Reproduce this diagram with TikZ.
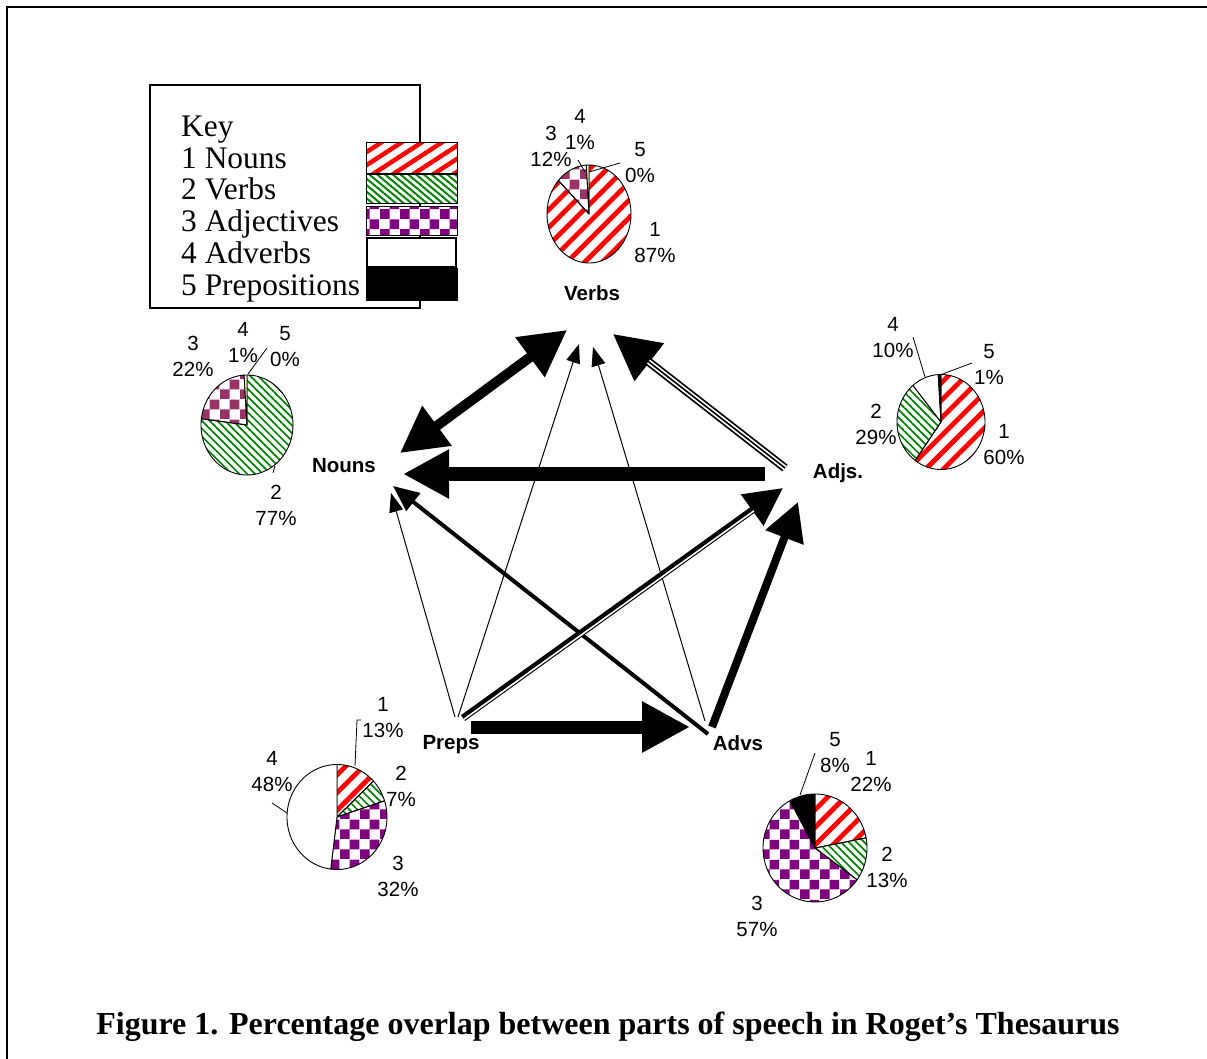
\documentclass[tikz,border=0pt]{standalone}
\usepackage{fontspec}
\setmainfont{Liberation Serif}
\newfontfamily\arialfont{Liberation Sans}
\usetikzlibrary{arrows.meta,patterns,patterns.meta}
\definecolor{nred}{RGB}{255,0,0}
\definecolor{vgreen}{RGB}{0,128,0}
\definecolor{apurple}{RGB}{128,0,128}
\definecolor{amaroon}{RGB}{153,51,102}
\definecolor{pivory}{RGB}{255,255,204}
\pgfdeclarepatternformonly{checkA}{\pgfpointorigin}{\pgfpoint{20pt}{20pt}}{\pgfpoint{20pt}{20pt}}{%
  \pgfpathrectangle{\pgfpointorigin}{\pgfpoint{10pt}{10pt}}%
  \pgfpathrectangle{\pgfpoint{10pt}{10pt}}{\pgfpoint{10pt}{10pt}}%
  \pgfusepath{fill}}
% slice: cx, cy, rx, ry, low angle, high angle, style
\newcommand{\pslice}[7]{%
  \path[#7] (#1,#2) -- plot[domain=#5:#6,samples=80] ({#1+#3*cos(\x)},{#2-#4*sin(\x)}) -- cycle;}
\begin{document}
\begin{tikzpicture}[x=1pt,y=-1pt,
  nounsfill/.style={pattern={Lines[angle=45,distance=12.5pt,line width=4.8pt]},pattern color=nred},
  nounskey/.style={pattern={Lines[angle=33,distance=11pt,line width=4.5pt]},pattern color=nred},
  verbsfill/.style={pattern={Lines[angle=-45,distance=5.5pt,line width=1.7pt]},pattern color=vgreen},
  verbskey/.style={pattern={Lines[angle=-40,distance=5pt,line width=2pt]},pattern color=vgreen},
  adjfill/.style={pattern=checkA,pattern color=apurple},
  adjfillB/.style={pattern=checkA,pattern color=amaroon},
  piece/.style={draw=black,line width=0.9pt,line join=round},
  swatch/.style={draw=black,line width=1pt,preaction={fill=white}},
  lab/.style={font=\arialfont\fontsize{20.5}{26}\selectfont,align=center,inner sep=0pt},
  posname/.style={font=\arialfont\bfseries\fontsize{20.5}{24}\selectfont,inner sep=0pt},
  keytext/.style={font=\fontsize{31.4}{32}\selectfont,anchor=base west,inner sep=0pt},
  leader/.style={draw=black,line width=0.8pt},
  thinarrow/.style={line width=1pt,-{Triangle[length=19pt,width=14pt]}}
]
\useasboundingbox (0,0) rectangle (1207,1059);
\draw[line width=2pt] (1207,7.5) -- (7,7.5) -- (7,1059);

% ---------- Key ----------
\draw[line width=1.2pt] (150,85) rectangle (420,308);
\node[keytext] (keyt) at (181,137) {Key};
\node[keytext] (k1) at (181,169) {1 Nouns};
\node[keytext] (k2) at (181,200) {2 Verbs};
\node[keytext] (k3) at (181,232) {3 Adjectives};
\node[keytext] (k4) at (181,264) {4 Adverbs};
\node[keytext] (k5) at (181,295) {5 Prepositions};
\draw[swatch,nounskey] (366,143) rectangle (457,174);
\draw[swatch,verbskey] (366,175) rectangle (457,204);
\draw[swatch,adjfill] (366,207) rectangle (457,236);
\draw[draw=black,line width=2pt,fill=white] (367,238) rectangle (456,267);
\draw[draw=black,fill=black] (366,268) rectangle (457,300);

% ---------- Verbs pie ----------
\pslice{589}{214}{42}{49}{-223.2}{90}{nounsfill,piece}
\pslice{589}{214}{42}{49}{93.6}{136.8}{adjfillB,piece}
\pslice{589}{214}{42}{49}{90}{93.6}{fill=pivory,piece}
\node[lab] (v4) at (580,130) {4\\1\%};
\node[lab] (v3) at (551,146) {3\\12\%};
\node[lab] (v5) at (640,163) {5\\0\%};
\node[lab] (v1) at (655,243) {1\\87\%};
\coordinate (lv4a) at (578,160); \coordinate (lv4b) at (585,172);
\coordinate (lv5a) at (620,163); \coordinate (lv5b) at (589,172);
\draw[leader] (lv4a) -- (lv4b);
\draw[leader] (lv5a) -- (lv5b);
\node[posname] (verbs) at (592,293) {Verbs};

% ---------- Nouns pie ----------
\pslice{247}{425}{46}{50}{-187.2}{90}{verbsfill,piece}
\pslice{247}{425}{46}{50}{93.6}{172.8}{adjfillB,piece}
\pslice{247}{425}{46}{50}{90}{93.6}{fill=pivory,piece}
\node[lab] (n3) at (193,356) {3\\22\%};
\node[lab] (n4) at (243,343) {4\\1\%};
\node[lab] (n5) at (285,347) {5\\0\%};
\node[lab] (n2) at (276,505) {2\\77\%};
\coordinate (ln5a) at (267,348); \coordinate (ln5b) at (248,374);
\coordinate (ln2a) at (275,466); \coordinate (ln2b) at (273,473);
\draw[leader] (ln5a) -- (ln5b);
\draw[leader] (ln2a) -- (ln2b);
\node[posname] (nouns) at (344,466) {Nouns};

% ---------- Adjs pie ----------
\pslice{941}{422}{44}{47.5}{-126}{90}{nounsfill,piece}
\pslice{941}{422}{44}{47.5}{-230.4}{-126}{verbsfill,piece}
\pslice{941}{422}{44}{47.5}{93.6}{129.6}{fill=white,piece}
\pslice{941}{422}{44}{47.5}{90}{93.6}{fill=black,piece}
\node[lab] (a4) at (893,338) {4\\10\%};
\node[lab] (a5) at (989,365) {5\\1\%};
\node[lab] (a2) at (876,424) {2\\29\%};
\node[lab] (a1) at (1004,445) {1\\60\%};
\coordinate (la4a) at (913,337); \coordinate (la4b) at (925,377);
\coordinate (la5a) at (972,363); \coordinate (la5b) at (940,375);
\draw[leader] (la4a) -- (la4b);
\draw[leader] (la5a) -- (la5b);
\node[posname] (adjs) at (838,473) {Adjs.};

% ---------- Preps pie ----------
\pslice{337}{817}{50}{52.5}{43.2}{90}{nounsfill,piece}
\pslice{337}{817}{50}{52.5}{18}{43.2}{verbsfill,piece}
\pslice{337}{817}{50}{52.5}{-97.2}{18}{adjfill,piece}
\pslice{337}{817}{50}{52.5}{-270}{-97.2}{fill=white,piece}
\node[lab] (p1) at (383,718) {1\\13\%};
\node[lab] (p2) at (401,786) {2\\7\%};
\node[lab] (p3) at (398,876) {3\\32\%};
\node[lab] (p4) at (272,772) {4\\48\%};
\coordinate (lp1a) at (361,720); \coordinate (lp1b) at (357,720); \coordinate (lp1c) at (355,766);
\coordinate (lp4a) at (272,803); \coordinate (lp4b) at (287,813);
\draw[leader] (lp1a) -- (lp1b) -- (lp1c);
\draw[leader] (lp4a) -- (lp4b);
\node[posname] (preps) at (451,745) {Preps};

% ---------- Advs pie ----------
\pslice{815}{848}{52}{54}{10.8}{90}{nounsfill,piece}
\pslice{815}{848}{52}{54}{-36}{10.8}{verbsfill,piece}
\pslice{815}{848}{52}{54}{-241.2}{-36}{adjfill,piece}
\pslice{815}{848}{52}{54}{90}{118.8}{fill=black,piece}
\node[lab] (d5) at (835,753) {5\\8\%};
\node[lab] (d1) at (871,772) {1\\22\%};
\node[lab] (d2) at (887,867) {2\\13\%};
\node[lab] (d3) at (757,916) {3\\57\%};
\coordinate (ld5a) at (815,753); \coordinate (ld5b) at (800,795);
\draw[leader] (ld5a) -- (ld5b);
\node[posname] (advs) at (738,743) {Advs};

% ---------- connectors ----------
\coordinate (NV1) at (400,453); \coordinate (NV2) at (567,330);
\coordinate (AN1) at (765,474); \coordinate (AN2) at (403,474);
\coordinate (PA1) at (471,727); \coordinate (PA2) at (690,727);
\coordinate (DA1) at (712,727); \coordinate (DA2) at (798,502);
\coordinate (PV1) at (458,717); \coordinate (PV2) at (579,344);
\coordinate (DV1) at (705,721); \coordinate (DV2) at (593,347);
\coordinate (PN1) at (455,717); \coordinate (PN2) at (391,493);
\coordinate (DN1) at (708,734); \coordinate (DN2) at (393,486);
\coordinate (JV1) at (785,468); \coordinate (JV2) at (613,334);
\coordinate (PJ1) at (463,718); \coordinate (PJ2) at (783,488);

\draw[line width=10pt,{Triangle[length=46pt,width=47pt]}-{Triangle[length=46pt,width=47pt]}] (NV1) -- (NV2);
\draw[line width=14pt,-{Triangle[length=46pt,width=46pt]}] (AN1) -- (AN2);
\draw[line width=13pt,-{Triangle[length=48pt,width=48pt]}] (PA1) -- (PA2);
\draw[line width=8pt,-{Triangle[length=38pt,width=39pt]}] (DA1) -- (DA2);
\draw[thinarrow] (PV1) -- (PV2);
\draw[thinarrow] (DV1) -- (DV2);
\draw[thinarrow] (PN1) -- (PN2);
\draw[line width=4pt,-{Triangle[length=26pt,width=22pt]}] (DN1) -- (DN2);
% triple line Adjs -> Verbs
\draw[line width=8.5pt,-{Triangle[length=46pt,width=46pt]}] (JV1) -- (JV2);
\draw[white,line width=5pt,shorten >=45pt] (JV1) -- (JV2);
\draw[black,line width=1.6pt,shorten >=45pt] (JV1) -- (JV2);
% double line Preps -> Adjs
\draw[line width=7pt,-{Triangle[length=38pt,width=37pt]}] (PJ1) -- (PJ2);
\draw[white,line width=1.6pt,shorten >=37pt,transform canvas={shift={(0.93pt,-1.3pt)}}] (PJ1) -- (PJ2);

% ---------- caption ----------
\node[font=\bfseries\fontsize{32}{36}\selectfont,inner sep=0pt] (cap) at (608,1027)
  {Figure 1. Percentage overlap between parts of speech in Roget’s Thesaurus};
\end{tikzpicture}
\end{document}
